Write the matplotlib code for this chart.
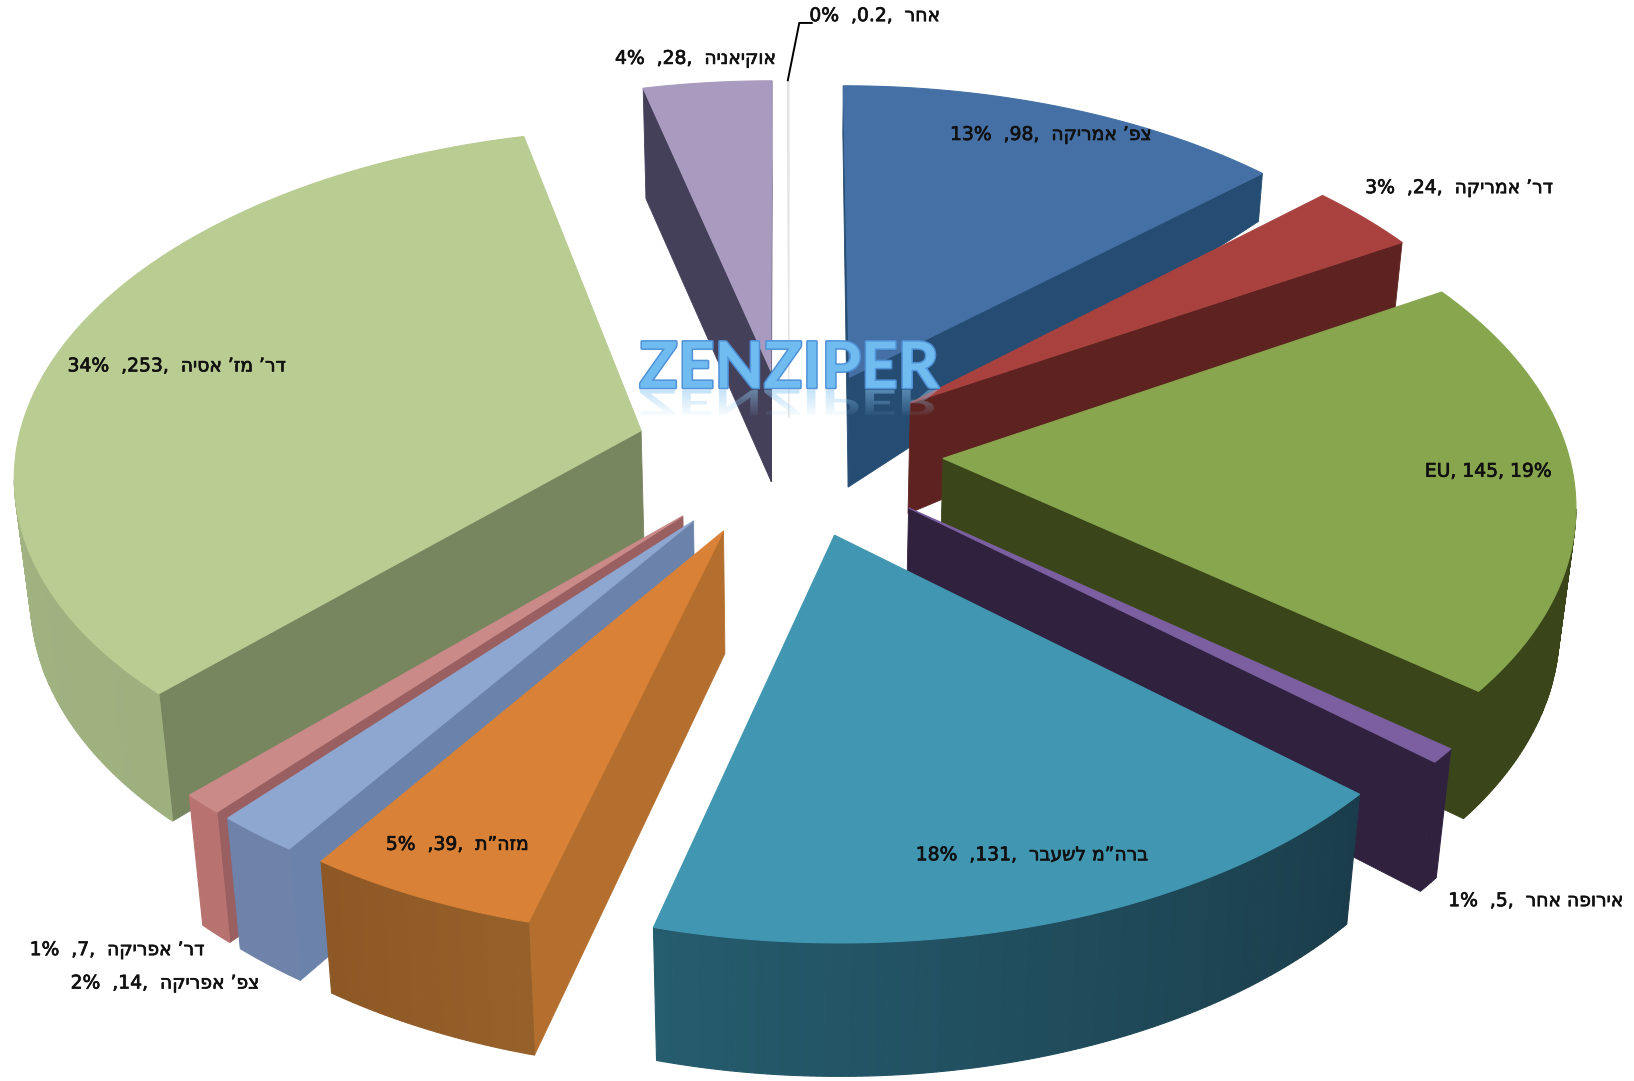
import numpy as np
import matplotlib
matplotlib.use("Agg")
import matplotlib.pyplot as plt
from matplotlib.font_manager import FontProperties
from matplotlib.patches import PathPatch
from matplotlib.path import Path
from matplotlib.textpath import TextPath
from matplotlib.transforms import Affine2D
import matplotlib.patheffects as pe

# data, clockwise from 12 o'clock
names = ["צפ’ אמריקה", "דר’ אמריקה", "EU", "אירופה אחר", "ברה”מ לשעבר", "מזה”ת",
         "צפ’ אפריקה", "דר’ אפריקה", "דר’ מז’ אסיה", "אוקיאניה", "אחר"]
values = [98, 24, 145, 5, 131, 39, 14, 7, 253, 28, 0.2]
percents = [13, 3, 19, 1, 18, 5, 2, 1, 34, 4, 0]

# colours
top_colors = ["#4570A5", "#A9423F", "#87A64E", "#7B5FA0", "#4197B2", "#D98136",
              "#8EA7D1", "#C98A88", "#B9CC92", "#A99BBF", "#E4E4E4"]
cut_colors = ["#254C72", "#5E2320", "#3A4619", "#30223F", "#1C4353", "#B46F2E",
              "#6B83AB", "#9A5F60", "#788660", "#45405A", "#E4E4E4"]
rim_colors = [("#254C72", "#254C72"), ("#5E2320", "#5E2320"), ("#3A4619", "#3A4619"),
              ("#30223F", "#30223F"), ("#1B3D4B", "#255C6E"), ("#96602A", "#8E5826"),
              ("#6E82AA", "#6E82AA"), ("#B87370", "#B87370"), ("#9FB07F", "#A8B98A"),
              ("#45405A", "#45405A"), ("#E4E4E4", "#E4E4E4")]

# where each label ends on the right, in the same order
label_xy = [(1105, 129), (1490, 180), (1489, 452), (1558, 864), (1101, 820), (507, 810),
            (249, 943), (196, 911), (274, 351), (745, 56), (902, 15)]

W, H = 1568, 1037
CX, CY = 757, 434
R = 600
EXPLODE = 148
PERSP = 0.00019
SQUASH = 0.545


def project(x, y):
    s = 1 / (1 + PERSP * y)
    return CX + x * s, CY - SQUASH * y * s


def depth_at(y, idx):
    if idx == 9:
        return 106 * np.ones_like(y)
    if idx == 10:
        return 45 * np.ones_like(y)
    return np.interp(y, [-740, -140, 0, 150, 400, 550], [128, 118, 108, 105, 64, 45])


def drop(sx, sy, y, idx):
    # bottom of the slice, the verticals lean to the middle
    d = depth_at(y, idx)
    return sx - (sx - CX) * d * 0.00018, sy + d


def visual(i):
    if names[i] == "EU":
        return f"EU, {values[i]}, {percents[i]}%"
    return f"{percents[i]}%  ,{values[i]},  {names[i][::-1]}"


def mix(c1, c2, t):
    a = np.array(matplotlib.colors.to_rgb(c1))
    b = np.array(matplotlib.colors.to_rgb(c2))
    return a + (b - a) * t


fig = plt.figure(figsize=(16.34, 10.81), dpi=100)
ax = fig.add_axes([0, 0, 1, 1])
ax.set_xlim(0, W)
ax.set_ylim(H, 0)
ax.axis("off")

total = sum(values)
edges = np.cumsum([0] + values) / total * 2 * np.pi

# slices furthest back are drawn first
mids = (edges[:-1] + edges[1:]) / 2
order = np.argsort(-np.cos(mids))

z = 2
for i in order:
    a0, a1 = edges[i], edges[i + 1]
    ox, oy = EXPLODE * np.sin(mids[i]), EXPLODE * np.cos(mids[i])
    ang = np.linspace(a0, a1, max(int(np.degrees(a1 - a0)), 2) * 2)
    mx = np.concatenate([[ox], ox + R * np.sin(ang)])
    my = np.concatenate([[oy], oy + R * np.cos(ang)])
    sx, sy = project(mx, my)
    bx, by = drop(sx, sy, my, i)

    # two straight cuts
    for j, k in [(0, 1), (-1, 0)]:
        if sx[k] - sx[j] < 0:
            ax.fill([sx[j], sx[k], bx[k], bx[j]], [sy[j], sy[k], by[k], by[j]],
                    color=cut_colors[i], lw=0.6, zorder=z)
            z += 1
    # outer wall
    for n in range(1, len(sx) - 1):
        if sx[n + 1] - sx[n] < 0:
            t = (n - 1) / max(len(sx) - 3, 1)
            c = mix(rim_colors[i][0], rim_colors[i][1], t)
            ax.fill([sx[n], sx[n + 1], bx[n + 1], bx[n]], [sy[n], sy[n + 1], by[n + 1], by[n]],
                    color=c, lw=0.8, zorder=z)
    z += 1
    ax.fill(sx, sy, color=top_colors[i], lw=0.8, zorder=z)
    z += 1

# labels
for i in range(len(names)):
    x, y = label_xy[i]
    ax.text(x, y, visual(i), ha="right", va="center", fontsize=13.5,
            family="DejaVu Sans", color="#111111", zorder=200,
            path_effects=[pe.withStroke(linewidth=0.5, foreground="#111111")])

ax.plot([756, 767, 779], [77, 22, 22], color="black", lw=1.4, zorder=200)

# logo with its reflection
logo_font = ["Lato", "Liberation Sans"]
logo_size = 46
base_y = 372
ax.text(757, base_y, "ZENZIPER", ha="center", va="baseline", fontsize=logo_size, fontweight="bold",
        family=logo_font, color="#70BCF0", zorder=210,
        path_effects=[pe.withStroke(linewidth=2.2, foreground="#4F92D8")])

fp = FontProperties(family=logo_font, weight="bold", size=logo_size)
tp = TextPath((0, 0), "ZENZIPER", prop=fp)
bb = tp.get_extents()
k = 100 / 72 * W / 1634
mirror = Affine2D().translate(-bb.x0 - bb.width / 2, 0).scale(k, 0.55 * k).translate(757, base_y + 2)
clip = PathPatch(Path(mirror.transform(tp.vertices), tp.codes), fc="none", ec="none",
                 transform=ax.transData, zorder=205)
ax.add_patch(clip)
fade = np.zeros((64, 2, 4))
fade[..., 0:3] = matplotlib.colors.to_rgb("#8CC8F2")
fade[..., 3] = np.linspace(0.55, 0, 64)[:, None]
im = ax.imshow(fade, extent=(600, 915, base_y + 30, base_y), aspect="auto", zorder=205)
im.set_clip_path(clip)
ax.set_xlim(0, W)
ax.set_ylim(H, 0)

fig.savefig("out.png", dpi=100)
